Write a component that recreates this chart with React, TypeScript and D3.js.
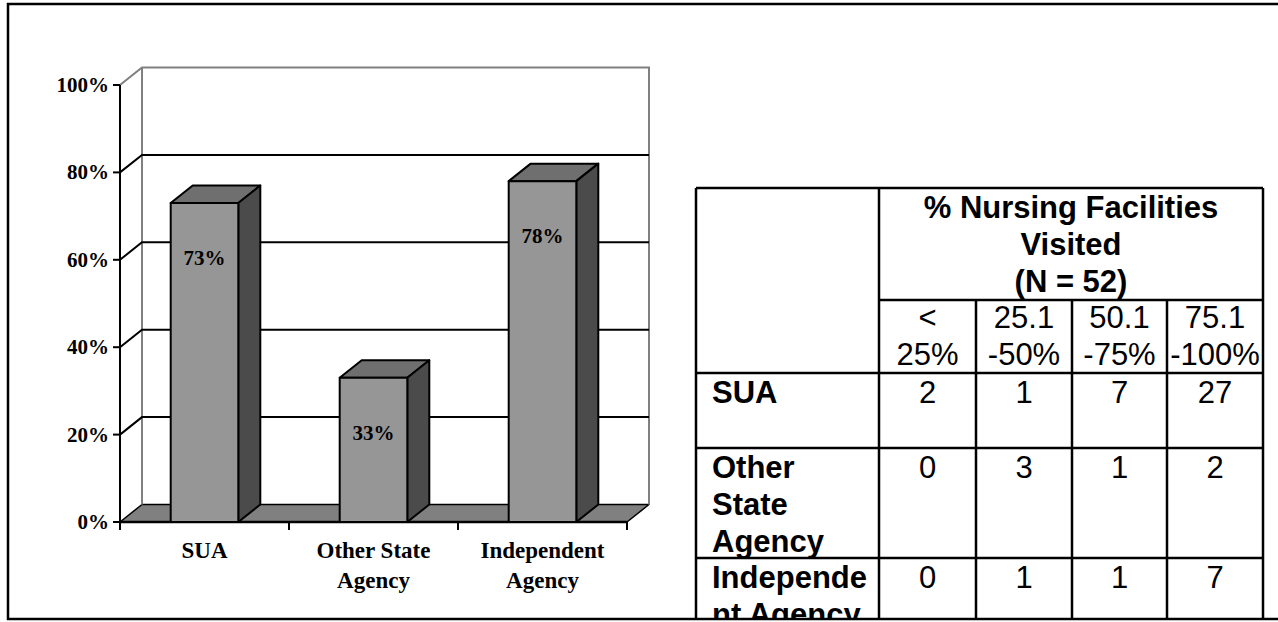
import React from "react";
import * as d3 from "d3";

// Bar chart series: share of nursing facilities visited, by agency type
const categories = ["SUA", "Other State Agency", "Independent Agency"];
const categoryLines = [["SUA"], ["Other State", "Agency"], ["Independent", "Agency"]];
const shares = [0.73, 0.33, 0.78];
const yTicks = [0, 0.2, 0.4, 0.6, 0.8, 1];

// Companion table: counts of agencies by share of facilities visited
const tableTitle = ["% Nursing Facilities", "Visited", "(N = 52)"];
const rangeHeaders = [["<", "25%"], ["25.1", "-50%"], ["50.1", "-75%"], ["75.1", "-100%"]];
const rowLabels = [["SUA"], ["Other", "State", "Agency"], ["Independe", "nt Agency"]];
const counts = [
  [2, 1, 7, 27],
  [0, 3, 1, 2],
  [0, 1, 1, 7],
];

const W = 1278;
const H = 622;

// 3-D projection offset for depth
const DX = 22;
const DY = -17.5;

const SERIF = "'Liberation Serif', 'Times New Roman', serif";
const SANS = "'Liberation Sans', Arial, sans-serif";

function Chart3D() {
  const x0 = 120;
  const x1 = 627;
  const y = d3.scaleLinear().domain([0, 1]).range([522, 85]);
  const x = d3
    .scaleBand<string>()
    .domain(categories)
    .range([x0, x1])
    .paddingInner(0.6)
    .paddingOuter(0.3);
  const step = x.step();
  const bw = x.bandwidth();
  const yBase = y(0);
  const yTop = y(1);
  const boundaries = d3.range(categories.length + 1).map((i) => x0 + i * step);

  return (
    <g>
      {/* floor */}
      <polygon
        points={`${x0},${yBase} ${x1},${yBase} ${x1 + DX},${yBase + DY} ${x0 + DX},${yBase + DY}`}
        fill="#808080"
        stroke="#000"
        strokeWidth={1.5}
        strokeLinejoin="round"
      />
      {/* back and side walls outline */}
      <polyline
        points={`${x0},${yTop} ${x0 + DX},${yTop + DY} ${x1 + DX},${yTop + DY} ${x1 + DX},${yBase + DY}`}
        fill="none"
        stroke="#808080"
        strokeWidth={2}
      />
      <line x1={x0 + DX} x2={x0 + DX} y1={yTop + DY} y2={yBase + DY} stroke="#808080" strokeWidth={2} />
      {/* gridlines */}
      {yTicks
        .filter((t) => t > 0 && t < 1)
        .map((t) => (
          <polyline
            key={t}
            points={`${x0},${y(t)} ${x0 + DX},${y(t) + DY} ${x1 + DX},${y(t) + DY}`}
            fill="none"
            stroke="#000"
            strokeWidth={2}
          />
        ))}
      {/* value axis */}
      <line x1={x0} x2={x0} y1={yTop} y2={yBase} stroke="#000" strokeWidth={2} />
      <line x1={x0} x2={x1} y1={yBase} y2={yBase} stroke="#000" strokeWidth={2.5} />
      {yTicks.map((t) => (
        <g key={t}>
          <line x1={x0 - 7} x2={x0} y1={y(t)} y2={y(t)} stroke="#000" strokeWidth={2} />
          <text
            x={x0 - 11}
            y={y(t) + 7}
            textAnchor="end"
            fontFamily={SERIF}
            fontWeight="bold"
            fontSize={21}
          >
            {`${Math.round(t * 100)}%`}
          </text>
        </g>
      ))}
      {boundaries.map((bx) => (
        <line key={bx} x1={bx} x2={bx} y1={yBase} y2={yBase + 8} stroke="#000" strokeWidth={2} />
      ))}
      {/* bars */}
      {categories.map((c, i) => {
        const v = shares[i];
        const bx = x(c)!;
        const by = y(v);
        return (
          <g key={c} stroke="#000" strokeWidth={2} strokeLinejoin="round">
            <polygon
              points={`${bx},${by} ${bx + DX},${by + DY} ${bx + bw + DX},${by + DY} ${bx + bw},${by}`}
              fill="#6f6f6f"
            />
            <polygon
              points={`${bx + bw},${by} ${bx + bw + DX},${by + DY} ${bx + bw + DX},${yBase + DY} ${bx + bw},${yBase}`}
              fill="#4b4b4b"
            />
            <rect x={bx} y={by} width={bw} height={yBase - by} fill="#969696" />
            <text
              x={bx + bw / 2}
              y={by + 62}
              textAnchor="middle"
              fontFamily={SERIF}
              fontWeight="bold"
              fontSize={21}
              stroke="none"
              fill="#000"
            >
              {`${Math.round(v * 100)}%`}
            </text>
          </g>
        );
      })}
      {/* category labels */}
      {categories.map((c, i) => (
        <text
          key={c}
          x={x(c)! + bw / 2}
          textAnchor="middle"
          fontFamily={SERIF}
          fontWeight="bold"
          fontSize={23}
        >
          {categoryLines[i].map((ln, j) => (
            <tspan key={j} x={x(c)! + bw / 2} y={558 + j * 30}>
              {ln}
            </tspan>
          ))}
        </text>
      ))}
    </g>
  );
}

function DataTable() {
  const colEdges = [696, 879, 976, 1072, 1167, 1263];
  const rowEdges = [188, 300, 373, 448, 558, 680];
  const lineStep = 37;
  const fs = 31;
  const left = colEdges[0];
  const right = colEdges[colEdges.length - 1];
  const bottom = 620;
  const colCenter = (k: number) => (colEdges[k + 1] + colEdges[k + 2]) / 2;

  return (
    <g>
      <defs>
        <clipPath id="tableClip">
          <rect x={0} y={0} width={W} height={bottom} />
        </clipPath>
      </defs>
      <g clipPath="url(#tableClip)">
        {/* title spanning the range columns */}
        <text textAnchor="middle" fontFamily={SANS} fontWeight="bold" fontSize={fs}>
          {tableTitle.map((t, j) => (
            <tspan key={j} x={(colEdges[1] + right) / 2} y={rowEdges[0] + 30 + j * lineStep}>
              {t}
            </tspan>
          ))}
        </text>
        {/* range sub-headers */}
        {rangeHeaders.map((lines, k) => (
          <text key={k} textAnchor="middle" fontFamily={SANS} fontSize={fs}>
            {lines.map((t, j) => (
              <tspan key={j} x={colCenter(k)} y={rowEdges[1] + 28 + j * lineStep}>
                {t}
              </tspan>
            ))}
          </text>
        ))}
        {/* body rows */}
        {rowLabels.map((lines, r) => (
          <g key={r}>
            <text fontFamily={SANS} fontWeight="bold" fontSize={fs}>
              {lines.map((t, j) => (
                <tspan key={j} x={left + 16} y={rowEdges[r + 2] + 30 + j * lineStep}>
                  {t}
                </tspan>
              ))}
            </text>
            {counts[r].map((n, k) => (
              <text
                key={k}
                x={colCenter(k)}
                y={rowEdges[r + 2] + 30}
                textAnchor="middle"
                fontFamily={SANS}
                fontSize={fs}
              >
                {n}
              </text>
            ))}
          </g>
        ))}
        {/* grid lines */}
        <g stroke="#000" strokeWidth={2.5}>
          <line x1={left} x2={right} y1={rowEdges[0]} y2={rowEdges[0]} />
          <line x1={colEdges[1]} x2={right} y1={rowEdges[1]} y2={rowEdges[1]} />
          {rowEdges.slice(2, 5).map((ry) => (
            <line key={ry} x1={left} x2={right} y1={ry} y2={ry} />
          ))}
          {[colEdges[0], colEdges[1], right].map((cx) => (
            <line key={cx} x1={cx} x2={cx} y1={rowEdges[0]} y2={H} />
          ))}
          {colEdges.slice(2, 5).map((cx) => (
            <line key={cx} x1={cx} x2={cx} y1={rowEdges[1]} y2={H} />
          ))}
        </g>
      </g>
    </g>
  );
}

export default function App() {
  return (
    <svg
      width={W}
      height={H}
      viewBox={`0 0 ${W} ${H}`}
      style={{ position: "absolute", left: 0, top: 0, display: "block", background: "#fff" }}
    >
      <rect x={0} y={0} width={W} height={H} fill="#fff" />
      {/* outer frame */}
      <rect x={8} y={4} width={W + 20} height={615} fill="none" stroke="#000" strokeWidth={2.5} />
      <Chart3D />
      <DataTable />
    </svg>
  );
}
